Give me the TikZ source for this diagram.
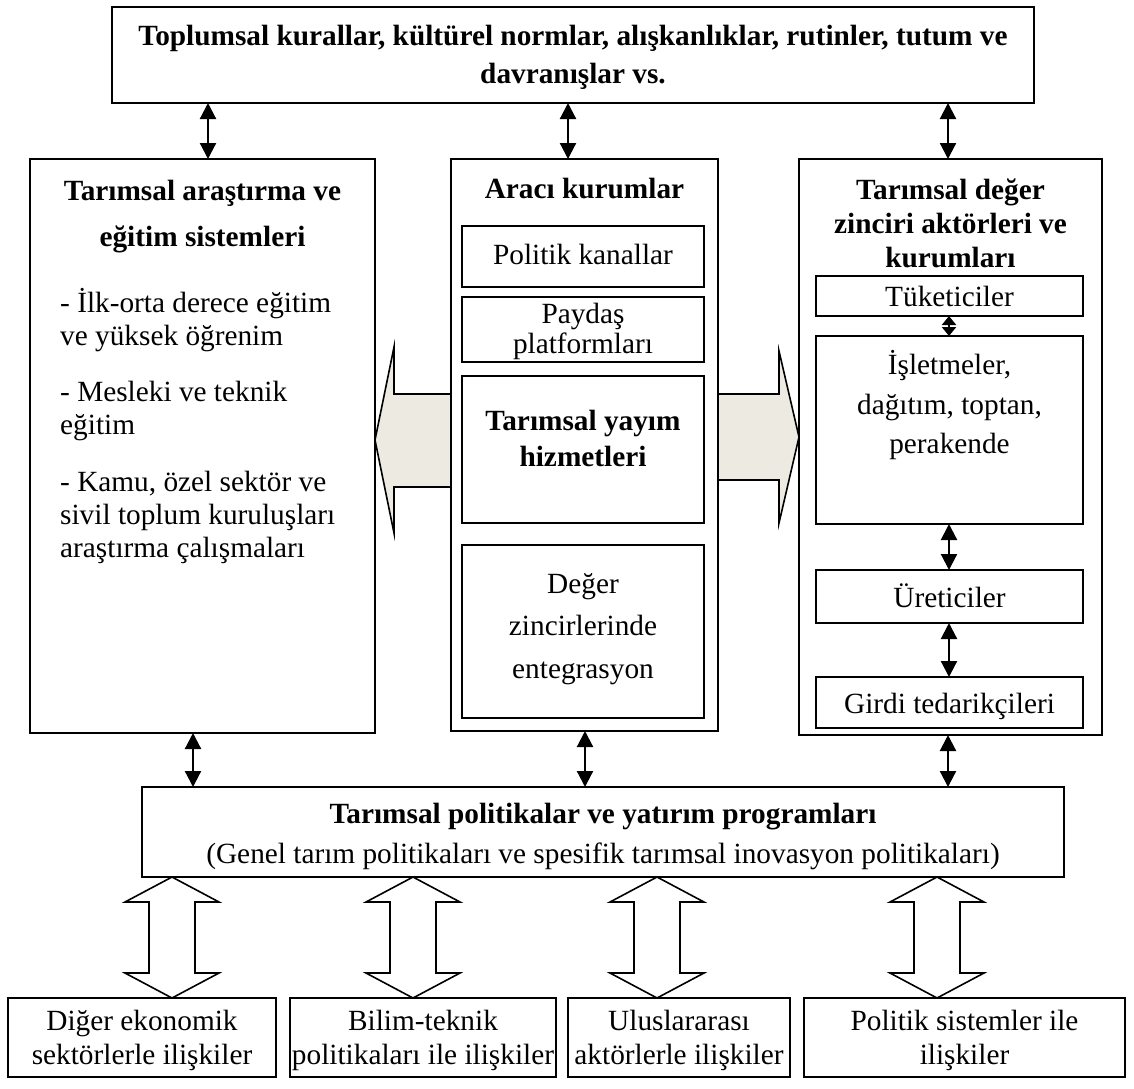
\documentclass[tikz,border=0pt]{standalone}
\usepackage{fontspec}
\setmainfont{Liberation Serif}
\usetikzlibrary{arrows.meta}
\tikzset{
  box/.style={draw, line width=1.8pt, inner sep=0pt, outer sep=0pt},
  txt/.style={anchor=base, inner sep=0pt, font=\fontsize{29.3}{34}\selectfont},
  btxt/.style={txt, font=\fontsize{29.3}{34}\selectfont\bfseries},
  ltxt/.style={txt, anchor=base west},
  dbl/.style={{Triangle[width=16pt,length=16pt]}-{Triangle[width=16pt,length=16pt]}, line width=2.2pt},
  sdbl/.style={{Triangle[width=14pt,length=9pt]}-{Triangle[width=14pt,length=9pt]}, line width=2.2pt},
  wide/.style={draw, line width=1.6pt, fill=arrowfill},
  hollow/.style={draw, line width=1.6pt, fill=white},
}
\definecolor{arrowfill}{HTML}{ECEAE1}
\newcommand{\hollowdbl}[1]{\draw[hollow] (#1,877) -- (#1+47,902) -- (#1+23,902) -- (#1+23,973) -- (#1+47,973) -- (#1,998) -- (#1-47,973) -- (#1-23,973) -- (#1-23,902) -- (#1-47,902) -- cycle;}
\begin{document}
\begin{tikzpicture}[x=1pt,y=-1pt]
\useasboundingbox[fill=white] (0,0) rectangle (1134,1088);
% main boxes
\node[box, minimum width=922pt, minimum height=96pt] (top) at (573,55) {};
\node[box, minimum width=345pt, minimum height=574pt] (left) at (202.5,446) {};
\node[box, minimum width=267pt, minimum height=572pt] (mid) at (584.5,445) {};
\node[box, minimum width=303pt, minimum height=576pt] (right) at (950.5,447) {};
\node[box, minimum width=922pt, minimum height=90pt] (pol) at (603,832) {};
% middle inner boxes
\node[box, minimum width=242pt, minimum height=61pt] (m1) at (583,256.5) {};
\node[box, minimum width=242pt, minimum height=65pt] (m2) at (583,329.5) {};
\node[box, minimum width=242pt, minimum height=147pt] (m3) at (583,449.5) {};
\node[box, minimum width=242pt, minimum height=173pt] (m4) at (583,631.5) {};
% right inner boxes
\node[box, minimum width=267pt, minimum height=40pt] (r1) at (949.5,296) {};
\node[box, minimum width=267pt, minimum height=188pt] (r2) at (949.5,430) {};
\node[box, minimum width=267pt, minimum height=53pt] (r3) at (949.5,596.5) {};
\node[box, minimum width=267pt, minimum height=51pt] (r4) at (949.5,702.5) {};
% bottom boxes
\node[box, minimum width=268pt, minimum height=79pt] (b1) at (142,1037.5) {};
\node[box, minimum width=266pt, minimum height=79pt] (b2) at (423,1037.5) {};
\node[box, minimum width=222pt, minimum height=79pt] (b3) at (679,1037.5) {};
\node[box, minimum width=321pt, minimum height=79pt] (b4) at (964.5,1037.5) {};
% texts
\node[btxt] (t1) at (573,45) {Toplumsal kurallar, kültürel normlar, alışkanlıklar, rutinler, tutum ve};
\node[btxt] (t2) at (573,83) {davranışlar vs.};
\node[btxt] (l1) at (202.5,200) {Tarımsal araştırma ve};
\node[btxt] (l2) at (202.5,246) {eğitim sistemleri};
\node[ltxt] (l3) at (60,312) {- İlk-orta derece eğitim};
\node[ltxt] (l4) at (60,345) {ve yüksek öğrenim};
\node[ltxt] (l5) at (60,401) {- Mesleki ve teknik};
\node[ltxt] (l6) at (60,434) {eğitim};
\node[ltxt] (l7) at (60,491) {- Kamu, özel sektör ve};
\node[ltxt] (l8) at (60,524) {sivil toplum kuruluşları};
\node[ltxt] (l9) at (60,557) {araştırma çalışmaları};
\node[btxt] (mt) at (584.5,198) {Aracı kurumlar};
\node[txt] (m1t) at (583,264) {Politik kanallar};
\node[txt] (m2t) at (583,323) {Paydaş};
\node[txt] (m2u) at (583,353) {platformları};
\node[btxt] (m3t) at (583,430) {Tarımsal yayım};
\node[btxt] (m3u) at (583,466) {hizmetleri};
\node[txt] (m4t) at (583,593) {Değer};
\node[txt] (m4u) at (583,635) {zincirlerinde};
\node[txt] (m4v) at (583,678) {entegrasyon};
\node[btxt] (rt1) at (950.5,199) {Tarımsal değer};
\node[btxt] (rt2) at (950.5,233) {zinciri aktörleri ve};
\node[btxt] (rt3) at (950.5,267) {kurumları};
\node[txt] (r1t) at (949.5,306) {Tüketiciler};
\node[txt] (r2t) at (949.5,374) {İşletmeler,};
\node[txt] (r2u) at (949.5,414) {dağıtım, toptan,};
\node[txt] (r2v) at (949.5,453) {perakende};
\node[txt] (r3t) at (949.5,607) {Üreticiler};
\node[txt] (r4t) at (949.5,713) {Girdi tedarikçileri};
\node[btxt] (p1) at (603,823) {Tarımsal politikalar ve yatırım programları};
\node[txt] (p2) at (603,863) {(Genel tarım politikaları ve spesifik tarımsal inovasyon politikaları)};
\node[txt] (b1t) at (142,1030) {Diğer ekonomik};
\node[txt] (b1u) at (142,1064) {sektörlerle ilişkiler};
\node[txt] (b2t) at (423,1030) {Bilim-teknik};
\node[txt] (b2u) at (423,1064) {politikaları ile ilişkiler};
\node[txt] (b3t) at (679,1030) {Uluslararası};
\node[txt] (b3u) at (679,1064) {aktörlerle ilişkiler};
\node[txt] (b4t) at (964.5,1030) {Politik sistemler ile};
\node[txt] (b4u) at (964.5,1064) {ilişkiler};
% double arrows
\draw[dbl] (top.south -| 208,0) -- (left.north -| 208,0);
\draw[dbl] (top.south -| 568,0) -- (mid.north -| 568,0);
\draw[dbl] (top.south -| 948,0) -- (right.north -| 948,0);
\draw[dbl] (left.south -| 193,0) -- (pol.north -| 193,0);
\draw[dbl] (mid.south -| 585,0) -- (pol.north -| 585,0);
\draw[dbl] (right.south -| 948,0) -- (pol.north -| 948,0);
\draw[sdbl] (r1.south -| 949,0) -- (r2.north -| 949,0);
\draw[dbl] (r2.south -| 949,0) -- (r3.north -| 949,0);
\draw[dbl] (r3.south -| 949,0) -- (r4.north -| 949,0);
% wide arrows
\draw[wide] (mid.west |- 0,394) -- (394,394) -- (394,347) -- (left.east |- 0,440) -- (394,533) -- (394,487) -- (mid.west |- 0,487) -- cycle;
\draw[wide] (mid.east |- 0,394) -- (779,394) -- (779,351) -- (right.west |- 0,437) -- (779,523) -- (779,480) -- (mid.east |- 0,480) -- cycle;
% hollow double arrows
\hollowdbl{172}
\hollowdbl{413}
\hollowdbl{657}
\hollowdbl{937}
\end{tikzpicture}
\end{document}
